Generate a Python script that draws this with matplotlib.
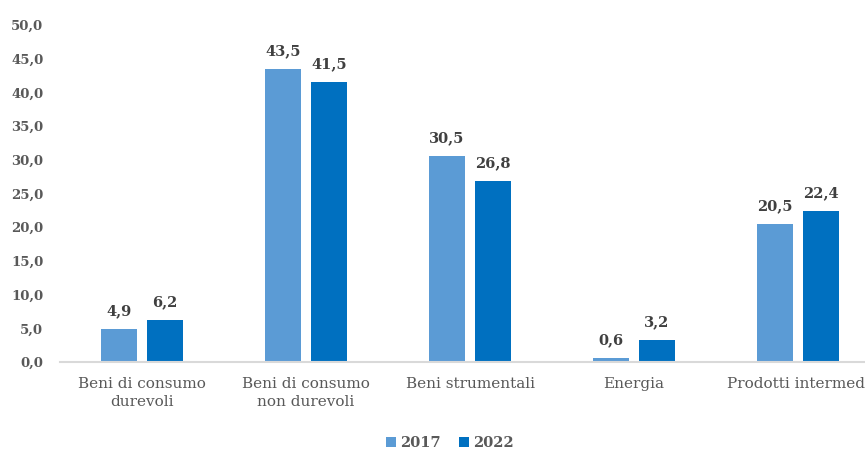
import matplotlib.pyplot as plt
import numpy as np

categories = ['Beni di consumo\ndurevoli', 'Beni di consumo\nnon durevoli',
              'Beni strumentali', 'Energia', 'Prodotti intermedi']
vals_2017 = [4.9, 43.5, 30.5, 0.6, 20.5]
vals_2022 = [6.2, 41.5, 26.8, 3.2, 22.4]
series_labels = ['2017', '2022']
yticks = [0, 5, 10, 15, 20, 25, 30, 35, 40, 45, 50]

c17 = '#5B9BD5'
c22 = '#0070C0'
txt = '#404040'

plt.rcParams['font.family'] = ['DejaVu Serif']

fig = plt.figure(figsize=(8.65, 4.51), dpi=100)
# axes runs past the right edge, as in the original image
ax = fig.add_axes([60 / 865, 89 / 451, 820 / 865, 337 / 451])

x = np.arange(len(categories))
w = 0.225
off = 0.14
b1 = ax.bar(x - off, vals_2017, w, color=c17, label=series_labels[0])
b2 = ax.bar(x + off, vals_2022, w, color=c22, label=series_labels[1])

for bars in (b1, b2):
    for r in bars:
        h = r.get_height()
        ax.annotate(f'{h:.1f}'.replace('.', ','),
                    (r.get_x() + r.get_width() / 2, h),
                    xytext=(0, 8), textcoords='offset points',
                    ha='center', va='bottom', fontsize=10.5,
                    fontweight='bold', color=txt)

ax.set_xlim(-0.5, len(categories) - 0.5)
ax.set_ylim(0, 50)
ax.set_yticks(yticks)
ax.set_yticklabels([f'{v:.1f}'.replace('.', ',') for v in yticks],
                   fontsize=9.5, fontweight='bold', color='#595959')
ax.set_xticks(x)
ax.set_xticklabels(categories, fontsize=11, color='#595959', linespacing=1.3)
ax.tick_params(axis='both', length=0)
ax.tick_params(axis='x', pad=11)
ax.tick_params(axis='y', pad=12)

for s in ['top', 'right', 'left']:
    ax.spines[s].set_visible(False)
ax.spines['bottom'].set_color('#D9D9D9')
ax.spines['bottom'].set_linewidth(1.5)

fig.legend(handles=[b1, b2], labels=series_labels, loc='center',
           bbox_to_anchor=(450 / 865, 1 - 443 / 451), ncol=2, frameon=False,
           prop={'size': 10.5, 'weight': 'bold'}, labelcolor='#595959',
           handlelength=0.7, handleheight=0.7, handletextpad=0.3,
           columnspacing=1.2)

fig.savefig('out.png', dpi=100)
